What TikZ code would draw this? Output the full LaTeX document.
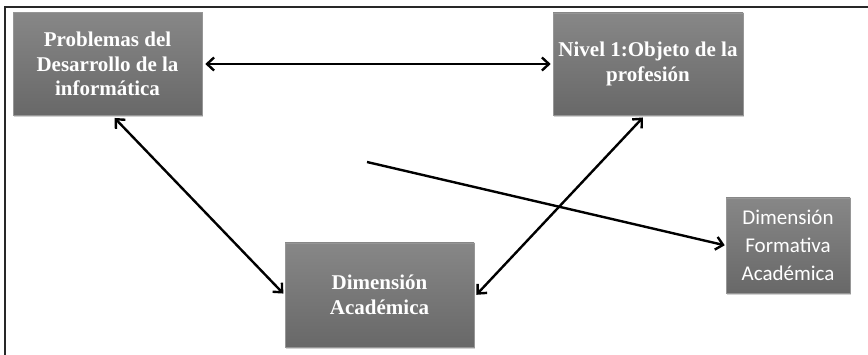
\documentclass[tikz,border=0pt]{standalone}
\usepackage{fontspec}
\setmainfont{Liberation Serif}
\newfontfamily\boxsans{Carlito}
\usetikzlibrary{arrows.meta,shadows}
\definecolor{boxtop}{RGB}{135,135,135}
\definecolor{boxbot}{RGB}{104,104,104}
\definecolor{boxedge}{RGB}{150,150,150}
\definecolor{framecol}{RGB}{40,40,40}
\tikzset{
  graybox/.style={rectangle, top color=boxtop, bottom color=boxbot, draw=boxedge, line width=0.6pt,
    drop shadow={shadow xshift=1pt, shadow yshift=-2pt, opacity=0.35},
    text=white, align=center, inner sep=0pt, font=\fontsize{21}{24.5}\selectfont\bfseries},
  sansbox/.style={graybox, font=\boxsans\fontsize{21}{28}\selectfont},
  link/.style={line width=2.4pt, black, {Straight Barb[length=7pt,width=13pt]}-{Straight Barb[length=7pt,width=13pt]}},
  onelink/.style={line width=2.4pt, black, -{Straight Barb[length=7pt,width=13pt]}},
  frameline/.style={line width=2pt, framecol}
}
\begin{document}
\begin{tikzpicture}[x=1pt,y=-1pt]
\useasboundingbox (0,0) rectangle (868,355);
\fill[white] (0,0) rectangle (868,355);
\coordinate (fa) at (5,355);
\coordinate (fb) at (5,7);
\coordinate (fc) at (868,7);
\draw[frameline] (fa) -- (fb) -- (fc);

\node[graybox, minimum width=189pt, minimum height=103pt] (b1) at (107.5,64)
  {Problemas del\\Desarrollo de la\\informática};
\node[graybox, minimum width=190pt, minimum height=102pt] (b2) at (648,64)
  {Nivel 1:Objeto de la\\profesión};
\node[graybox, minimum width=189pt, minimum height=104pt] (b3) at (379.5,295)
  {Dimensión\\Académica};
\node[sansbox, minimum width=124pt, minimum height=95pt] (b4) at (788,245.5)
  {Dimensión\\Formativa\\Académica};

\coordinate (start) at (367,162);

\draw[link, shorten <=3pt, shorten >=2pt] (b1.east) -- (b2.west);
\draw[link, shorten <=3pt, shorten >=2pt] ([xshift=5pt]b1.south) -- (b3.west);
\draw[link, shorten <=3pt, shorten >=3pt] ([xshift=-3pt]b2.south) -- ([yshift=-2pt]b3.east);
\draw[onelink, shorten >=1pt] (start) -- (b4.west);
\end{tikzpicture}
\end{document}
